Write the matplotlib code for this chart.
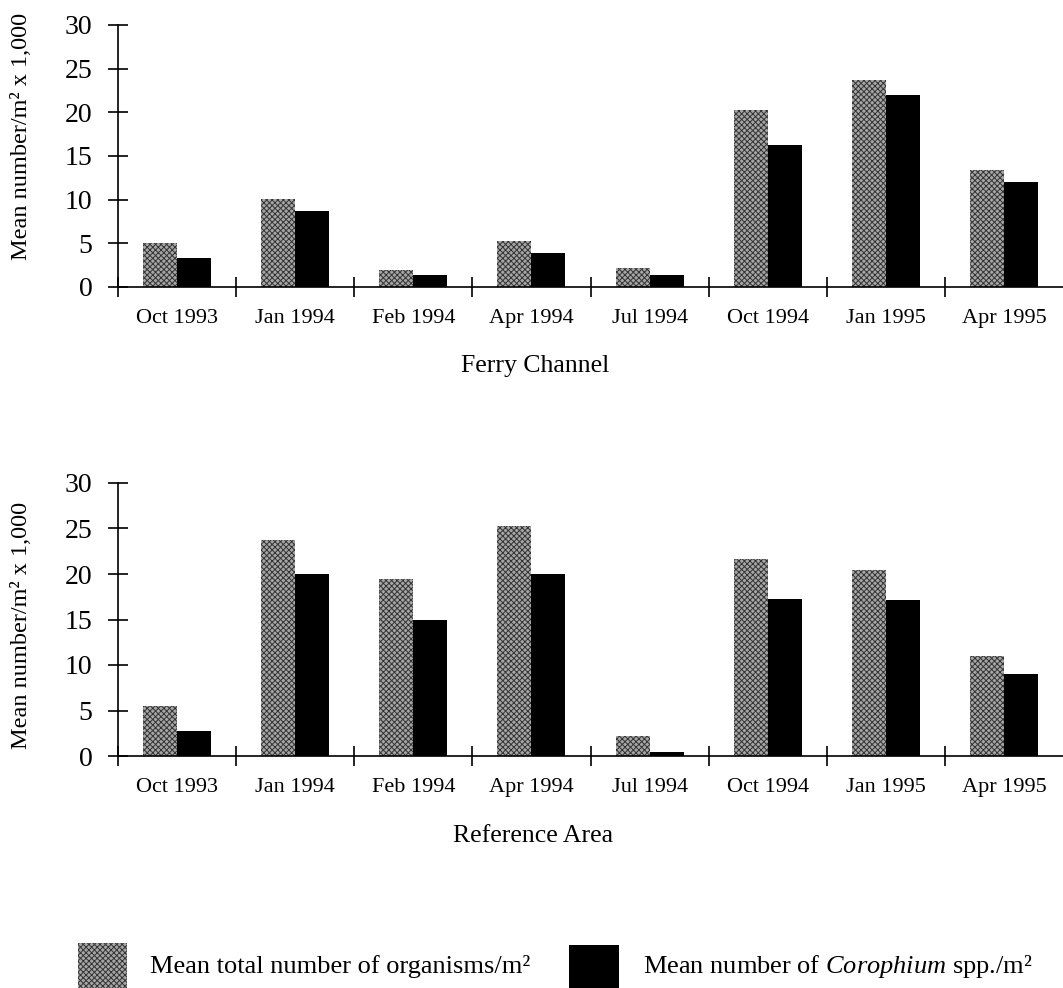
import matplotlib
matplotlib.use("Agg")
import matplotlib.pyplot as plt
from matplotlib.patches import Rectangle
import numpy as np

plt.rcParams['font.family'] = ['Liberation Serif', 'DejaVu Serif']
plt.rcParams['mathtext.fontset'] = 'custom'
plt.rcParams['mathtext.rm'] = 'Liberation Serif'
plt.rcParams['mathtext.it'] = 'Liberation Serif:italic'
plt.rcParams['hatch.linewidth'] = 0.7

# data (x 1,000 per m2)
dates = ['Oct 1993', 'Jan 1994', 'Feb 1994', 'Apr 1994',
         'Jul 1994', 'Oct 1994', 'Jan 1995', 'Apr 1995']
ferry_total = [5.0, 10.1, 2.0, 5.3, 2.2, 20.3, 23.7, 13.4]
ferry_coro = [3.3, 8.7, 1.4, 3.9, 1.4, 16.3, 22.0, 12.0]
ref_total = [5.5, 23.7, 19.4, 25.3, 2.2, 21.6, 20.4, 11.0]
ref_coro = [2.7, 20.0, 15.0, 20.0, 0.45, 17.2, 17.1, 9.0]

W, H = 1063, 988
fig = plt.figure(figsize=(W / 100, H / 100), dpi=100)

ax1 = fig.add_axes([118 / W, 1 - 287 / H, 945 / W, 262 / H])
ax2 = fig.add_axes([118 / W, 1 - 756 / H, 945 / W, 273 / H])

grey = '#a6a6a6'
bw = 0.288
x = np.arange(len(dates)) + 0.5

for ax, tot, coro in [(ax1, ferry_total, ferry_coro), (ax2, ref_total, ref_coro)]:
    ax.bar(x - bw / 2, tot, bw, color=grey, hatch='xxxxxx',
           edgecolor='#333333', linewidth=0)
    ax.bar(x + bw / 2, coro, bw, color='black', linewidth=0)
    ax.set_xlim(0, 8)
    ax.set_ylim(0, 30)
    ax.spines['top'].set_visible(False)
    ax.spines['right'].set_visible(False)
    ax.spines['left'].set_linewidth(1.2)
    ax.spines['bottom'].set_linewidth(1.2)
    ax.set_yticks(range(0, 31, 5))
    ax.tick_params(axis='y', direction='inout', length=15, width=1.2,
                   pad=11, labelsize=20)
    ax.set_xticks(range(8))
    ax.set_xticklabels([])
    ax.tick_params(axis='x', which='major', direction='inout', length=15, width=1.2)
    ax.set_xticks(x, minor=True)
    ax.set_xticklabels(dates, minor=True)
    ax.tick_params(axis='x', which='minor', length=0, pad=16, labelsize=16)

ylab = 'Mean number/m² x 1,000'
fig.text(22 / W, 1 - 136 / H, ylab, rotation=90, ha='center', va='center', fontsize=17.5)
fig.text(22 / W, 1 - 625 / H, ylab, rotation=90, ha='center', va='center', fontsize=17.5)

fig.text(535 / W, 1 - 372 / H, 'Ferry Channel', ha='center', va='baseline', fontsize=18.5)
fig.text(533 / W, 1 - 842 / H, 'Reference Area', ha='center', va='baseline', fontsize=18.5)

# legend
fig.add_artist(Rectangle((78 / W, 1 - 988 / H), 49 / W, 45 / H, transform=fig.transFigure,
                         facecolor=grey, hatch='xxxxxx', edgecolor='#333333', linewidth=0))
fig.add_artist(Rectangle((569 / W, 1 - 988 / H), 50 / W, 43 / H, transform=fig.transFigure,
                         facecolor='black', linewidth=0))
fig.text(150 / W, 1 - 973 / H, 'Mean total number of organisms/m²', ha='left',
         va='baseline', fontsize=19)
fig.text(643 / W, 1 - 973 / H, r'Mean number of $\mathit{Corophium}$ spp./m²', ha='left',
         va='baseline', fontsize=19)

fig.savefig('out.png', dpi=100)
